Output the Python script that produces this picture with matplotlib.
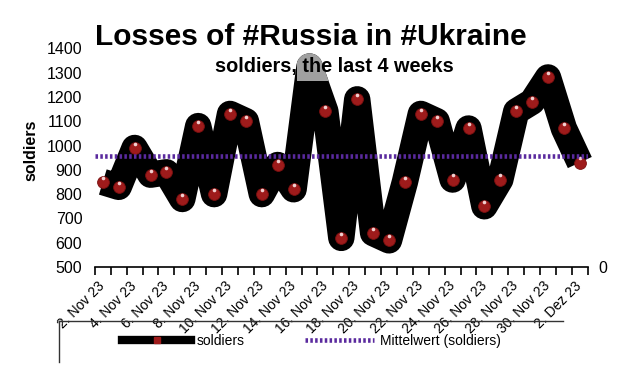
import numpy as np
import matplotlib.pyplot as plt
from matplotlib.lines import Line2D
from matplotlib.patches import Rectangle
from matplotlib.transforms import offset_copy

plt.rcParams['font.family'] = ['Liberation Sans', 'DejaVu Sans']

days = ["2. Nov 23", "3. Nov 23", "4. Nov 23", "5. Nov 23", "6. Nov 23", "7. Nov 23",
        "8. Nov 23", "9. Nov 23", "10. Nov 23", "11. Nov 23", "12. Nov 23", "13. Nov 23",
        "14. Nov 23", "15. Nov 23", "16. Nov 23", "17. Nov 23", "18. Nov 23", "19. Nov 23",
        "20. Nov 23", "21. Nov 23", "22. Nov 23", "23. Nov 23", "24. Nov 23", "25. Nov 23",
        "26. Nov 23", "27. Nov 23", "28. Nov 23", "29. Nov 23", "30. Nov 23", "1. Dez 23",
        "2. Dez 23"]
soldiers = [850, 830, 990, 880, 890, 780, 1080, 800, 1130, 1100, 800, 920, 820, 1325,
            1140, 620, 1190, 640, 610, 850, 1130, 1100, 860, 1070, 750, 860, 1140, 1180,
            1280, 1070, 930]
mittelwert = 955
yticks = [500, 600, 700, 800, 900, 1000, 1100, 1200, 1300, 1400]
grid_vals = [800, 900, 1000]

x = np.arange(len(days))

fig = plt.figure(figsize=(6.2, 3.71), dpi=100)
ax = fig.add_axes([0.153, 0.28, 0.795, 0.59])

# thick black line of the series
ax.plot(x, soldiers, color='black', lw=19, solid_joinstyle='round',
        solid_capstyle='butt', zorder=3, clip_on=False)
ax.plot(x, soldiers, ls='none', marker='o', ms=8.5, color='#9e1b1b',
        markeredgecolor='#7a1010', mew=0.6, zorder=4)
hl = offset_copy(ax.transData, fig=fig, x=0, y=3, units='points')
ax.plot(x, soldiers, ls='none', marker='o', ms=2.6, color='#f0d0d0',
        mew=0, transform=hl, zorder=5)

# grey top of the 15 Nov peak
grey, = ax.plot(x, soldiers, color='#a0a0a0', lw=19, solid_joinstyle='round',
                solid_capstyle='butt', zorder=6)
clip = Rectangle((12.2, 1264), 2.6, 400, transform=ax.transData)
grey.set_clip_path(clip)

# mean line
ax.plot([-0.5, len(days) - 0.5], [mittelwert, mittelwert], color='#5a2a9e',
        lw=3.3, dashes=(0.55, 0.5), solid_capstyle='butt', zorder=7)

ax.set_xlim(-0.5, len(days) - 0.5)
ax.set_ylim(500, 1400)
for s in ['left', 'right', 'top']:
    ax.spines[s].set_visible(False)
ax.spines['bottom'].set_color('black')
ax.spines['bottom'].set_linewidth(1.2)

ax.set_xticks(np.arange(-0.5, len(days), 1), minor=True)
ax.set_xticks(x[::2])
ax.set_xticklabels(days[::2], rotation=45, ha='right', va='center',
                   rotation_mode='anchor', fontsize=10)
ax.tick_params(axis='x', which='major', length=0, pad=12)
ax.tick_params(axis='x', which='minor', length=6, width=1.2, color='black')

ax.set_yticks(yticks)
ax.set_yticklabels([str(v) for v in yticks], fontsize=11.5)
ax.tick_params(axis='y', which='major', length=0, pad=9)
ax.set_yticks(grid_vals, minor=True)
ax.tick_params(axis='y', which='minor', length=6, color='#b0b0b0')
ax.grid(which='minor', axis='y', color='#c0c0c0', lw=0.8, zorder=0)
ax.set_axisbelow(True)

ax.set_ylabel('soldiers', fontsize=11.5, fontweight='bold')
ax.yaxis.set_label_coords(-0.115, 0.534)

ax2 = ax.twinx()
ax2.set_ylim(0, 1)
ax2.set_yticks([0])
ax2.set_yticklabels(['0'], fontsize=11.5)
ax2.tick_params(axis='y', length=0, pad=8)
for s in ax2.spines.values():
    s.set_visible(False)

fig.text(0.502, 0.9, 'Losses of #Russia in #Ukraine', fontsize=21.5,
         fontweight='bold', ha='center', va='center')
fig.text(0.539, 0.82, 'soldiers, the last 4 weeks', fontsize=14.3,
         fontweight='bold', ha='center', va='center')

handles = [Line2D([], [], color='black', lw=6, marker='s', ms=4,
                  markerfacecolor='#9e1b1b', markeredgecolor='#9e1b1b'),
           Line2D([], [], color='#5a2a9e', lw=3.3, dashes=(0.55, 0.5))]
fig.legend(handles, ['soldiers', 'Mittelwert (soldiers)'], loc='center',
           bbox_to_anchor=(0.502, 0.081), ncol=2, frameon=False, fontsize=10,
           handlelength=5.0, handletextpad=0.4, columnspacing=4.3)

# frame lines at the bottom
fig.add_artist(Line2D([59 / 620, 563 / 620], [1 - 321 / 371, 1 - 321 / 371],
                      color='#333333', lw=1))
fig.add_artist(Line2D([59 / 620, 59 / 620], [1 - 321 / 371, 1 - 362 / 371],
                      color='#333333', lw=1))

fig.savefig('out.png', dpi=100)
